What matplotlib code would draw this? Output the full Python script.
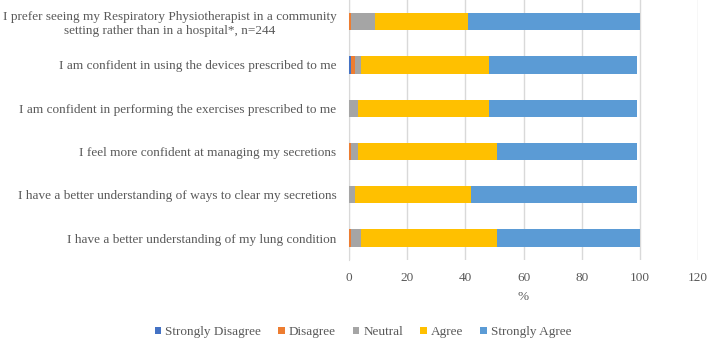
import matplotlib
matplotlib.use("Agg")
import matplotlib.pyplot as plt
import numpy as np

categories = [
    "I prefer seeing my Respiratory Physiotherapist in a community\nsetting rather than in a hospital*, n=244",
    "I am confident in using the devices prescribed to me",
    "I am confident in performing the exercises prescribed to me",
    "I feel more confident at managing my secretions",
    "I have a better understanding of ways to clear my secretions",
    "I have a better understanding of my lung condition",
]
series_names = ["Strongly Disagree", "Disagree", "Neutral", "Agree", "Strongly Agree"]
strongly_disagree = [0, 0.8, 0, 0, 0, 0]
disagree = [0.7, 1.2, 0, 0.8, 0, 0.8]
neutral = [8.3, 2.0, 3.0, 2.2, 2.0, 3.2]
agree = [32, 44, 45, 48, 40, 47]
strongly_agree = [59, 51, 51, 48, 57, 49]
x_ticks = [0, 20, 40, 60, 80, 100, 120]

colors = ["#4472C4", "#ED7D31", "#A5A5A5", "#FFC000", "#5B9BD5"]
text_color = "#595959"
fs = 9.5

plt.rcParams['font.family'] = ['Liberation Serif', 'DejaVu Serif']

fig = plt.figure(figsize=(7.08, 3.41), dpi=100)
ax = fig.add_axes([349/708, (341-259.7)/341, (698-349)/708, 259.7/341])

data = [strongly_disagree, disagree, neutral, agree, strongly_agree]
y = np.arange(len(categories))
left = np.zeros(len(categories))
for name, vals, c in zip(series_names, data, colors):
    vals = np.array(vals, dtype=float)
    ax.barh(y, vals, left=left, height=0.4, color=c, label=name, zorder=3)
    left += vals

ax.set_ylim(len(categories) - 0.5, -0.5)
ax.set_xlim(0, 120)
ax.set_xticks(x_ticks)
ax.set_yticks(y)
labels = ax.set_yticklabels(categories, fontsize=fs, color=text_color)
for lab in labels:
    lab.set_multialignment('center')
ax.tick_params(axis='both', length=0, colors=text_color, labelsize=fs)
ax.tick_params(axis='x', pad=9)
ax.tick_params(axis='y', pad=9)
ax.grid(axis='x', color='#D9D9D9', linewidth=1, zorder=0)
for s in ['top', 'right', 'bottom']:
    ax.spines[s].set_visible(False)
ax.spines['left'].set_color('#D9D9D9')
ax.set_xlabel('%', fontsize=fs, color=text_color, labelpad=5)

handles, lbls = ax.get_legend_handles_labels()
fig.legend(handles, lbls, loc='center', bbox_to_anchor=(363/708, (341-332)/341), ncol=5,
           frameon=False, fontsize=fs, handlelength=0.5, handleheight=0.5,
           handletextpad=0.3, columnspacing=1.3, labelcolor=text_color,
           borderpad=0, borderaxespad=0)

fig.savefig('out.png', dpi=100)
